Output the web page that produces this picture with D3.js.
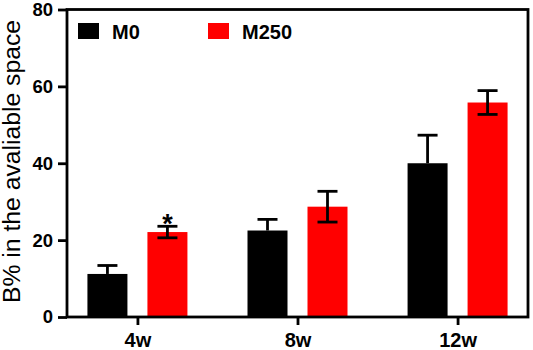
<!DOCTYPE html>
<html><head><meta charset="utf-8">
<script src="https://cdn.jsdelivr.net/npm/d3@7"></script>
<style>body{margin:0;background:#fff}svg{display:block}text{font-family:"Liberation Sans",Arial,sans-serif}</style>
</head><body>
<svg id="c" width="533" height="350"></svg>
<script>
const categories = ["4w", "8w", "12w"];
const seriesNames = ["M0", "M250"];
const m0Values = [11.2, 22.5, 40.0];
const m0Errors = [2.2, 2.9, 7.3];
const m250Values = [22.1, 28.7, 55.8];
const m250Errors = [1.5, 4.0, 3.1];
const significance = ["*", "", ""];
const yTicks = [0, 20, 40, 60, 80];
const colors = ["#000000", "#ff0000"];

const svg = d3.select("#c");
const L = 67, R = 528, T = 9.5, B = 317;
const x = d3.scalePoint().domain(categories).range([L, R]).padding(0.44);
const y = d3.scaleLinear().domain([0, 80]).range([B, T]);
const barW = 40, off = 30, cap = 20;
const FONT = '"Liberation Sans",Arial,sans-serif';

const series = [
  {name: seriesNames[0], vals: m0Values, errs: m0Errors, color: colors[0], dx: -off, lowerErr: false},
  {name: seriesNames[1], vals: m250Values, errs: m250Errors, color: colors[1], dx: off, lowerErr: true}
];

// bars
series.forEach(s => {
  svg.append("g").selectAll("rect").data(categories).join("rect")
    .attr("x", (d) => x(d) + s.dx - barW/2)
    .attr("y", (d,i) => y(s.vals[i]))
    .attr("width", barW)
    .attr("height", (d,i) => y(0) - y(s.vals[i]))
    .attr("fill", s.color);
});
// error bars
series.forEach(s => {
  const g = svg.append("g").attr("stroke", "#000").attr("stroke-width", 2.8).attr("fill", "none");
  categories.forEach((c, i) => {
    const cx = x(c) + s.dx;
    const top = y(s.vals[i] + s.errs[i]);
    const bot = s.lowerErr ? y(s.vals[i] - s.errs[i]) : y(s.vals[i]);
    g.append("line").attr("x1", cx).attr("x2", cx).attr("y1", top).attr("y2", bot);
    g.append("line").attr("x1", cx - cap/2).attr("x2", cx + cap/2).attr("y1", top).attr("y2", top);
    if (s.lowerErr) g.append("line").attr("x1", cx - cap/2).attr("x2", cx + cap/2).attr("y1", bot).attr("y2", bot);
  });
});
// significance
categories.forEach((c, i) => {
  if (!significance[i]) return;
  svg.append("text").attr("x", x(c) + off).attr("y", y(m250Values[i] + m250Errors[i]) + 7)
    .attr("text-anchor", "middle").attr("font-size", 27).attr("font-weight", "bold")
    .attr("font-family", FONT).attr("fill", "#000").text(significance[i]);
});

// frame
svg.append("rect").attr("x", L).attr("y", T).attr("width", R - L).attr("height", B - T)
  .attr("fill", "none").attr("stroke", "#000").attr("stroke-width", 2.8);

// y axis
const ya = svg.append("g").attr("transform", `translate(${L},0)`)
  .call(d3.axisLeft(y).tickValues(yTicks).tickSize(9).tickPadding(5));
ya.select(".domain").remove();
ya.selectAll(".tick line").attr("stroke-width", 2.8);
ya.selectAll("text").attr("font-size", 18.5).attr("font-weight", "bold").attr("fill", "#000")
  .attr("font-family", FONT);

// x axis
const xa = svg.append("g").attr("transform", `translate(0,${B})`)
  .call(d3.axisBottom(x).tickSize(8).tickPadding(8));
xa.select(".domain").remove();
xa.selectAll(".tick line").attr("stroke-width", 2.8);
xa.selectAll("text").attr("font-size", 20).attr("font-weight", "bold").attr("fill", "#000")
  .attr("font-family", FONT);

// y label
svg.append("text").attr("transform", "translate(19.5,161.5) rotate(-90)")
  .attr("text-anchor", "middle").attr("font-size", 23).attr("fill", "#000")
  .attr("font-family", FONT)
  .attr("textLength", 283).attr("lengthAdjust", "spacingAndGlyphs")
  .text("B% in the avaliable space");

// legend
const legX = [78, 208];
series.forEach((s, i) => {
  svg.append("rect").attr("x", legX[i]).attr("y", 23).attr("width", 21).attr("height", 16).attr("fill", s.color);
  svg.append("text").attr("x", legX[i] + 34).attr("y", 38.5).attr("font-size", 20).attr("font-weight", "bold")
    .attr("font-family", FONT).attr("fill", "#000").text(s.name);
});
</script>
</body></html>
